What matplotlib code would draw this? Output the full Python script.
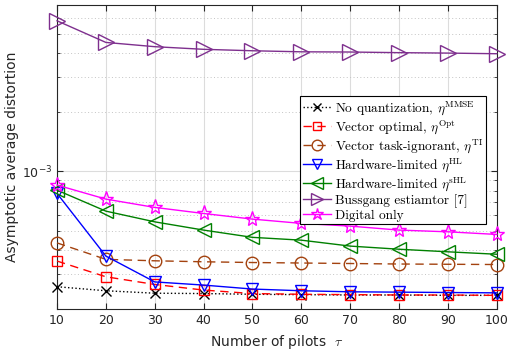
import numpy as np
import matplotlib
matplotlib.use('Agg')
import matplotlib.pyplot as plt
from matplotlib.ticker import LogLocator, NullFormatter, FixedLocator

plt.rcParams['font.family'] = ['DejaVu Sans']
plt.rcParams['mathtext.fontset'] = 'cm'

# data
pilots = [10, 20, 30, 40, 50, 60, 70, 80, 90, 100]

no_quant   = [2.60e-4, 2.48e-4, 2.41e-4, 2.40e-4, 2.38e-4, 2.37e-4, 2.36e-4, 2.36e-4, 2.35e-4, 2.35e-4]
vec_opt    = [3.51e-4, 2.92e-4, 2.67e-4, 2.50e-4, 2.40e-4, 2.38e-4, 2.37e-4, 2.36e-4, 2.36e-4, 2.35e-4]
vec_ti     = [4.34e-4, 3.58e-4, 3.52e-4, 3.48e-4, 3.45e-4, 3.43e-4, 3.41e-4, 3.39e-4, 3.38e-4, 3.37e-4]
hw_hl      = [7.74e-4, 3.72e-4, 2.75e-4, 2.65e-4, 2.53e-4, 2.48e-4, 2.45e-4, 2.44e-4, 2.43e-4, 2.42e-4]
hw_shl     = [8.04e-4, 6.29e-4, 5.55e-4, 5.04e-4, 4.63e-4, 4.48e-4, 4.18e-4, 4.03e-4, 3.91e-4, 3.80e-4]
bussgang   = [5.82e-3, 4.52e-3, 4.30e-3, 4.17e-3, 4.10e-3, 4.05e-3, 4.04e-3, 4.01e-3, 3.99e-3, 3.96e-3]
digital    = [8.53e-4, 7.24e-4, 6.57e-4, 6.12e-4, 5.73e-4, 5.45e-4, 5.28e-4, 5.04e-4, 4.94e-4, 4.79e-4]

labels = [
	r'No quantization, $\eta^{\rm MMSE}$',
	r'Vector optimal, $\eta^{\rm Opt}$',
	r'Vector task-ignorant, $\eta^{\rm TI}$',
	r'Hardware-limited $\eta^{\rm HL}$',
	r'Hardware-limited $\eta^{\rm sHL}$',
	r'Bussgang estiamtor [7]',
	r'Digital only',
]

series = [
	(no_quant, 'black',   'x', ':',  7),
	(vec_opt,  '#ff0000', 's', '--', 7),
	(vec_ti,   '#a3420f', 'o', '--', 9),
	(hw_hl,    '#0000ff', 'v', '-',  9),
	(hw_shl,   '#008000', '<', '-',  10),
	(bussgang, '#7e2f8e', '>', '-',  11),
	(digital,  '#ff00ff', '*', '-',  11),
]

fig = plt.figure(figsize=(5.09, 3.57), dpi=100)
ax = fig.add_axes([0.112, 0.134, 0.864, 0.852])

for (vals, col, mk, ls, ms), lab in zip(series, labels):
	line, = ax.plot(pilots, vals, color=col, marker=mk, linestyle=ls, linewidth=1.0,
		markersize=ms, markerfacecolor='none', markeredgecolor=col,
		markeredgewidth=1.0, label=lab, clip_on=False, zorder=3)
	if ls == '--':
		line.set_dashes((6, 4))

ax.set_yscale('log')
ax.set_xlim(10, 100)
ax.set_ylim(2e-4, 7e-3)
ax.set_xticks(pilots)
ax.yaxis.set_major_locator(FixedLocator([1e-3]))
ax.yaxis.set_minor_locator(LogLocator(base=10, subs=np.arange(2, 10)))
ax.yaxis.set_minor_formatter(NullFormatter())

ax.grid(True, which='major', color='#dcdcdc', linewidth=0.8, linestyle='-', zorder=0)
ax.grid(True, which='minor', axis='y', color='#c4c4c4', linewidth=0.7, linestyle=(0, (1, 2.5)), zorder=0)
ax.set_axisbelow(True)

ax.tick_params(which='both', direction='in', top=True, right=True, labelsize=9, colors='#262626')
ax.tick_params(which='major', length=4)
ax.tick_params(which='minor', length=2)
for s in ax.spines.values():
	s.set_color('#262626')
	s.set_linewidth(0.8)

ax.set_xlabel(r'Number of pilots  $\tau$', fontsize=10, color='#262626', labelpad=4)
ax.set_ylabel('Asymptotic average distortion', fontsize=10, color='#262626', labelpad=2)

leg = ax.legend(loc='upper right', bbox_to_anchor=(0.975, 0.70),
	prop={'family': 'cmr10', 'size': 9.6},
	fancybox=False, edgecolor='black', framealpha=1, markerscale=0.85,
	labelspacing=0.1, handlelength=2.1, handletextpad=0.3, borderpad=0.2,
	borderaxespad=0)
leg.get_frame().set_linewidth(0.8)

plt.savefig('out.png', dpi=100)
